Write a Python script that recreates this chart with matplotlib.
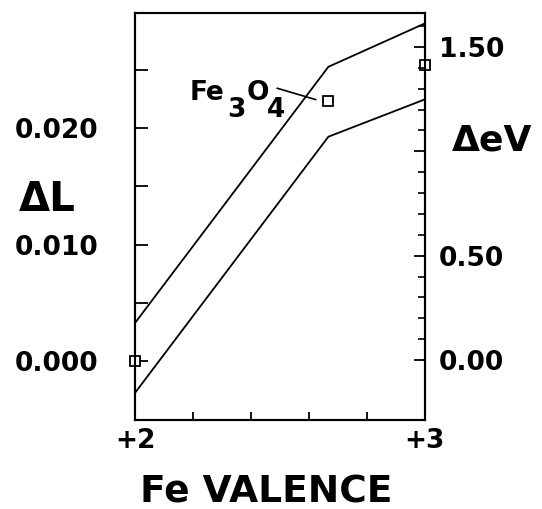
import matplotlib
matplotlib.use("Agg")
import matplotlib.pyplot as plt
from matplotlib.ticker import FixedLocator, FixedFormatter

# Fe valence vs energy shift (right axis, eV) for the two bounding lines
valence = [2.0, 2.667, 3.0]
upper_ev = [0.177, 1.405, 1.613]
lower_ev = [-0.158, 1.07, 1.249]

# measured points (left axis, delta L)
pt_valence = [2.0, 2.667, 3.0]
pt_dl = [0.0, 0.0223, 0.0254]

x_ticks = [2.0, 2.2, 2.4, 2.6, 2.8, 3.0]
x_labels = ["+2", "", "", "", "", "+3"]
dl_ticks = [0.0, 0.005, 0.010, 0.015, 0.020, 0.025]
dl_labels = ["0.000", "", "0.010", "", "0.020", ""]
ev_major = [0.0, 0.5, 1.0, 1.5]
ev_labels = ["0.00", "0.50", "", "1.50"]
ev_minor = [0.1, 0.2, 0.3, 0.4, 0.6, 0.7, 0.8, 0.9, 1.1, 1.2, 1.3, 1.4, 1.6]

plt.rcParams["font.family"] = "DejaVu Sans"
plt.rcParams["font.weight"] = "bold"

fig = plt.figure(figsize=(5.42, 5.09), dpi=100)
ax = fig.add_axes([0.249, 0.1749, 0.535, 0.7996])
ax2 = ax.twinx()

ax.set_xlim(2.0, 3.0)
ax.set_ylim(-0.00507, 0.0299)
ax2.set_ylim(-0.2875, 1.663)

for a in (ax, ax2):
    for s in a.spines.values():
        s.set_linewidth(1.5)

# lines on the eV axis
ax2.plot(valence, upper_ev, color="black", lw=1.3)
ax2.plot(valence, lower_ev, color="black", lw=1.3)

# squares on the delta L axis
ax.plot(pt_valence, pt_dl, ls="none", marker="s", ms=7, mfc="white",
        mec="black", mew=1.3, clip_on=False, zorder=5)

ax.xaxis.set_major_locator(FixedLocator(x_ticks))
ax.xaxis.set_major_formatter(FixedFormatter(x_labels))
ax.yaxis.set_major_locator(FixedLocator(dl_ticks))
ax.yaxis.set_major_formatter(FixedFormatter(dl_labels))
ax.tick_params(axis="x", direction="in", length=6, width=1.3, pad=6,
               labelsize=19)
ax.tick_params(axis="y", direction="in", length=9, width=1.3, pad=26,
               labelsize=19)

ax2.yaxis.set_major_locator(FixedLocator(ev_major))
ax2.yaxis.set_major_formatter(FixedFormatter(ev_labels))
ax2.yaxis.set_minor_locator(FixedLocator(ev_minor))
ax2.tick_params(axis="y", which="major", direction="in", length=8,
                width=1.3, pad=10, labelsize=19)
ax2.tick_params(axis="y", which="minor", direction="in", length=5,
                width=1.2)

# Fe3O4 label (subscripts almost full size) and leader line
label_x, label_y = 2.19, 0.0224
for piece, dx, dy in [("Fe", 0, 0), ("3", 26.5, -12), ("O", 41, 0),
                      ("4", 55.5, -12)]:
    ax.annotate(piece, xy=(label_x, label_y), xytext=(dx, dy),
                textcoords="offset points", fontsize=19, fontweight="bold",
                ha="left", va="baseline")
ax.plot([2.491, 2.623], [0.02343, 0.02246], color="black", lw=1.2)

fig.text(0.087, 0.607, "\u0394L", fontsize=29, fontweight="bold",
         ha="center", va="center")
fig.text(0.907, 0.723, "\u0394eV", fontsize=26, fontweight="bold",
         ha="center", va="center")
fig.text(0.491, 0.033, "Fe VALENCE", fontsize=27, fontweight="bold",
         ha="center", va="center")

fig.savefig("out.png", dpi=100)
